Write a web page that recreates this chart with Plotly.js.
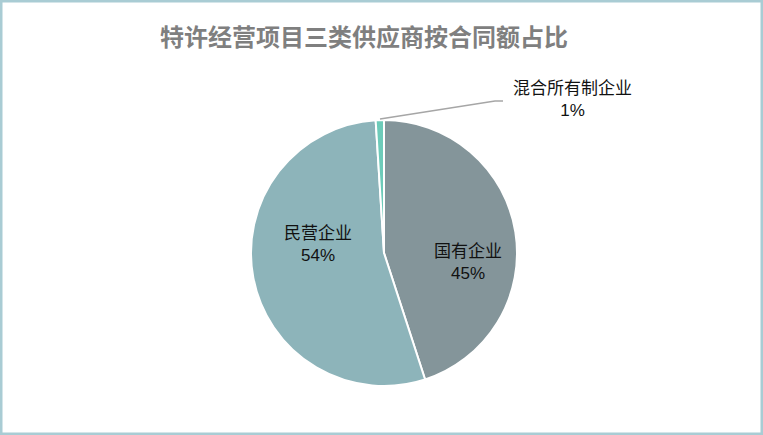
<!DOCTYPE html>
<html>
<head>
<meta charset="utf-8">
<script src="https://cdn.plot.ly/plotly-3.0.1.min.js"></script>
<style>
  html, body { margin: 0; padding: 0; background: #fff; }
  #chart { width: 763px; height: 435px; }
</style>
</head>
<body>
<div id="chart"></div>
<script>
  var categories = ['国有企业', '民营企业', '混合所有制企业'];
  var shares = [45, 54, 1];
  var sliceColors = ['#84959a', '#8db4ba', '#6dcbb9'];

  var W = 763, H = 435;
  // pixel -> paper helpers
  function px(x) { return x / W; }
  function py(y) { return 1 - y / H; }

  var font = '"Liberation Sans", Arial, "Noto Sans CJK SC", sans-serif';

  var data = [{
    type: 'pie',
    labels: categories,
    values: shares,
    sort: false,
    direction: 'clockwise',
    rotation: 0,
    textinfo: 'none',
    hoverinfo: 'label+percent',
    marker: {
      colors: sliceColors,
      line: { color: '#ffffff', width: 2 }
    },
    domain: { x: [px(251), px(517)], y: [py(386), py(120)] },
    showlegend: false
  }];

  // label spots
  var labelPos = [[468, 262], [318, 244], [572, 99]];
  var annotations = categories.map(function (c, i) {
    return {
      xref: 'paper', yref: 'paper',
      x: px(labelPos[i][0]), y: py(labelPos[i][1]),
      xanchor: 'center', yanchor: 'middle',
      text: c + '<br>' + shares[i] + '%',
      showarrow: false,
      font: { family: font, size: 17, color: '#111111' }
    };
  });

  var layout = {
    width: W, height: H,
    margin: { t: 0, b: 0, l: 0, r: 0 },
    paper_bgcolor: '#ffffff',
    title: {
      text: '<b>特许经营项目三类供应商按合同额占比</b>',
      font: { family: font, size: 24, color: '#7f7f7f' },
      xref: 'paper', x: px(364), xanchor: 'center',
      yref: 'paper', y: py(38), yanchor: 'middle'
    },
    annotations: annotations,
    shapes: [
      {
        type: 'rect', xref: 'paper', yref: 'paper',
        x0: 0, x1: 1, y0: 0, y1: 1,
        line: { color: '#a9ccd4', width: 5 }
      },
      {
        // leader line for the small slice
        type: 'path', xref: 'paper', yref: 'paper',
        path: 'M ' + px(380) + ' ' + py(119) + ' L ' + px(495) + ' ' + py(101) + ' L ' + px(503) + ' ' + py(101),
        line: { color: '#a6a6a6', width: 1.5 }
      }
    ]
  };

  Plotly.newPlot('chart', data, layout, { displayModeBar: false, staticPlot: true });
</script>
</body>
</html>
